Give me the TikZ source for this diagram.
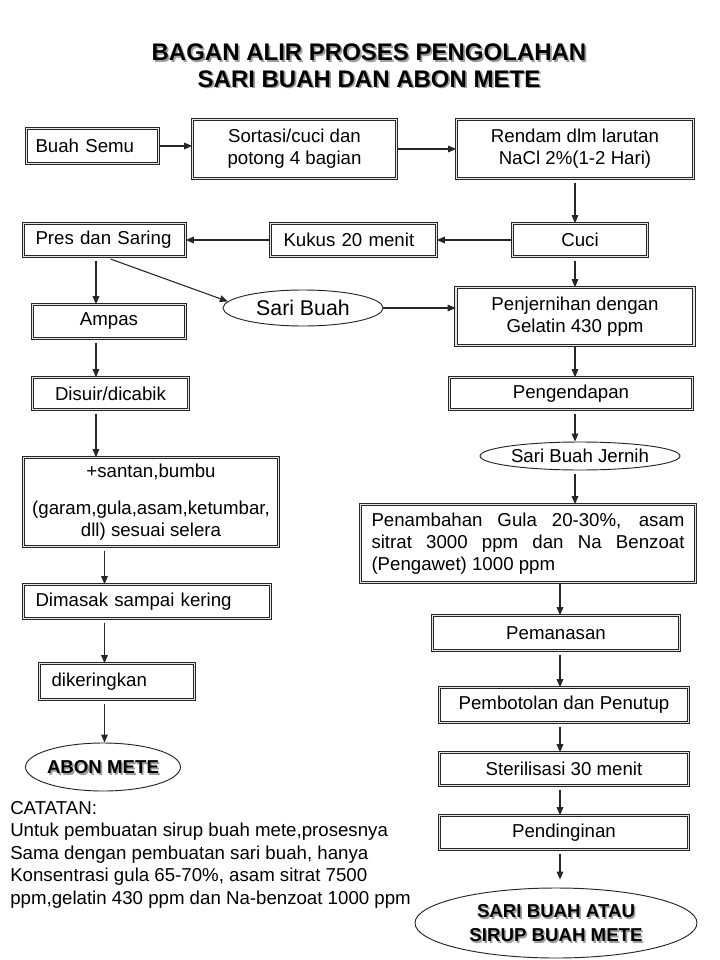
\documentclass[tikz,border=0pt]{standalone}
\usepackage{fontspec}
\setmainfont{Liberation Sans}
\usetikzlibrary{arrows.meta,shapes.geometric,calc}
\begin{document}
\begin{tikzpicture}[x=0.75pt,y=-0.75pt,
  base/.style={font=\fontsize{14}{16.5}\selectfont, text=black},
  box/.style 2 args={base, draw=black!85, double=black!10, double distance=1.4pt, line width=0.55pt,
    minimum width={(#1-3)*0.75pt}, minimum height={(#2-3)*0.75pt}, align=center, inner sep=1pt},
  lbox/.style={base, draw=black!85, double=black!10, double distance=1.4pt, line width=0.55pt,
    align=left, inner ysep=1pt},
  oval/.style 2 args={base, ellipse, draw=black!85, line width=0.7pt,
    minimum width={#1*0.75pt}, minimum height={#2*0.75pt}, inner sep=0pt},
  arr/.style={draw=black!85, line width=0.8pt, -{Triangle[length=6pt,width=5pt]}},
  varr/.style={arr, shorten <=3pt},
  btxt/.style={font=\fontsize{14}{18}\selectfont\bfseries, align=center, inner sep=0pt, text=black},
  shtxt/.style={btxt, text=black!38},
  ttl/.style={font=\fontsize{18}{20}\selectfont\bfseries}
]
\useasboundingbox[fill=white] (0,0) rectangle (720,960);

% title
\node[shtxt, ttl] (titleS) at ([shift={(1.3pt,-1.3pt)}]369,65.5) {BAGAN ALIR PROSES PENGOLAHAN\\SARI BUAH DAN ABON METE};
\node[btxt, ttl] (title) at (369,65.5) {BAGAN ALIR PROSES PENGOLAHAN\\SARI BUAH DAN ABON METE};

% boxes
\node[lbox, text width=85.5pt, inner xsep=6.75pt, minimum height=26.25pt] (buah) at (92.5,146) {Buah Semu};
\node[box={207}{62}] (sortasi) at (294.5,149) {Sortasi/cuci dan\\potong 4 bagian};
\node[box={240}{62}] (rendam) at (575,149) {Rendam dlm larutan\\NaCl 2\%(1-2 Hari)};
\node[box={138}{36}] (cuci) at (580,240) {Cuci};
\node[lbox, text width=105pt, inner xsep=9.75pt, minimum height=24.75pt] (kukus) at (353.5,240) {Kukus 20 menit};
\node[lbox, text width=103.5pt, inner xsep=9pt, minimum height=24.75pt] (pres) at (104.5,240) {Pres dan Saring};
\node[oval={160}{36}, font=\fontsize{16}{19}\selectfont] (sari) at (303,308) {Sari Buah};
\node[box={241}{61}] (penj) at (575,316.5) {Penjernihan dengan\\Gelatin 430 ppm};
\node[box={156}{37}] (ampas) at (109,321.5) {Ampas};
\node[box={159}{35}] (disuir) at (110.5,393.5) {Disuir/dicabik};
\node[box={246}{35}] (pengendapan) at (571,393.5) {Pengendapan};
\node[oval={200}{28}] (jernih) at (580,456) {Sari Buah Jernih};
\node[box={258}{92}] (santan) at (151,502) {+santan,bumbu\\[11pt](garam,gula,asam,ketumbar,\\dll) sesuai selera};
\node[lbox, align=justify, text width=234.75pt, inner xsep=8.25pt, minimum height=58.5pt] (tambah) at (528,543.5)
  {Penambahan Gula 20-30\%, asam\linebreak sitrat 3000 ppm dan Na Benzoat\linebreak (Pengawet) 1000 ppm};
\node[lbox, text width=167.25pt, inner xsep=9pt, minimum height=25.5pt] (dimasak) at (147,601.5) {Dimasak sampai kering};
\node[box={250}{38}] (pemanasan) at (556,633) {Pemanasan};
\node[lbox, text width=98.25pt, inner xsep=9pt, minimum height=27pt] (dikering) at (117,681.5) {dikeringkan};
\node[box={252}{38}] (botol) at (564,705) {Pembotolan dan Penutup};
\node[oval={155}{48}] (abon) at (103,767) {};
\node[box={252}{36}] (steril) at (564,769) {Sterilisasi 30 menit};
\node[box={252}{37}] (dingin) at (564,832.5) {Pendinginan};
\node[oval={282}{70}] (akhir) at (556,923) {};

% bold shadowed labels
\node[shtxt] (abonS) at ([shift={(1.2pt,-1.2pt)}]abon.center) {ABON METE};
\node[btxt] (abonT) at (abon.center) {ABON METE};
\node[shtxt] (akhirS) at ([shift={(1.2pt,-1.2pt)}]akhir.center) {SARI BUAH ATAU\\SIRUP BUAH METE};
\node[btxt] (akhirT) at (akhir.center) {SARI BUAH ATAU\\SIRUP BUAH METE};

% note
\node[base, anchor=north west, align=left, inner sep=0pt, font=\fontsize{14}{16.9}\selectfont] (catatan) at (10,801)
  {CATATAN:\\Untuk pembuatan sirup buah mete,prosesnya\\Sama dengan pembuatan sari buah, hanya\\Konsentrasi gula 65-70\%, asam sitrat 7500\\ppm,gelatin 430 ppm dan Na-benzoat 1000 ppm};

% guide coordinates
\coordinate (rc) at (rendam.south);
\coordinate (lc) at ([xshift=-6.4pt]pres.south);
\coordinate (lc2) at (pres.south);
\coordinate (rc2) at ([xshift=-3pt]botol.south);

% connectors
\draw[arr] (buah.east) -- (buah.east -| sortasi.west);
\draw[arr] (sortasi.east) -- (rendam.west);
\draw[varr] (rendam.south) -- (rendam.south |- cuci.north);
\draw[arr] (cuci.west) -- (kukus.east);
\draw[arr] (kukus.west) -- (pres.east);
\draw[varr] (lc) -- (lc |- ampas.north);
\draw[arr, shorten <=5pt] (pres.south) -- (sari.175);
\draw[arr] (sari.east) -- (sari.east -| penj.west);
\draw[varr] (cuci.south -| rc) -- (penj.north -| rc);
\draw[arr] (penj.south -| rc) -- (pengendapan.north -| rc);
\draw[varr] (pengendapan.south -| rc) -- (jernih.north -| rc);
\draw[varr] (jernih.south -| rc) -- (tambah.north -| rc);
\draw[arr] (tambah.south -| rc2) -- (pemanasan.north -| rc2);
\draw[varr] (pemanasan.south -| rc2) -- (botol.north -| rc2);
\draw[varr] (botol.south -| rc2) -- (steril.north -| rc2);
\draw[varr] (steril.south -| rc2) -- (dingin.north -| rc2);
\draw[varr, shorten >=6pt] (dingin.south -| rc2) -- (akhir.north -| rc2);
\draw[varr] (ampas.south -| lc) -- (disuir.north -| lc);
\draw[varr] (disuir.south -| lc) -- (santan.north -| lc);
\draw[varr] (santan.south -| lc2) -- (dimasak.north -| lc2);
\draw[varr] (dimasak.south -| lc2) -- (dikering.north -| lc2);
\draw[varr] (dikering.south -| lc2) -- (abon.north -| lc2);
\end{tikzpicture}
\end{document}
